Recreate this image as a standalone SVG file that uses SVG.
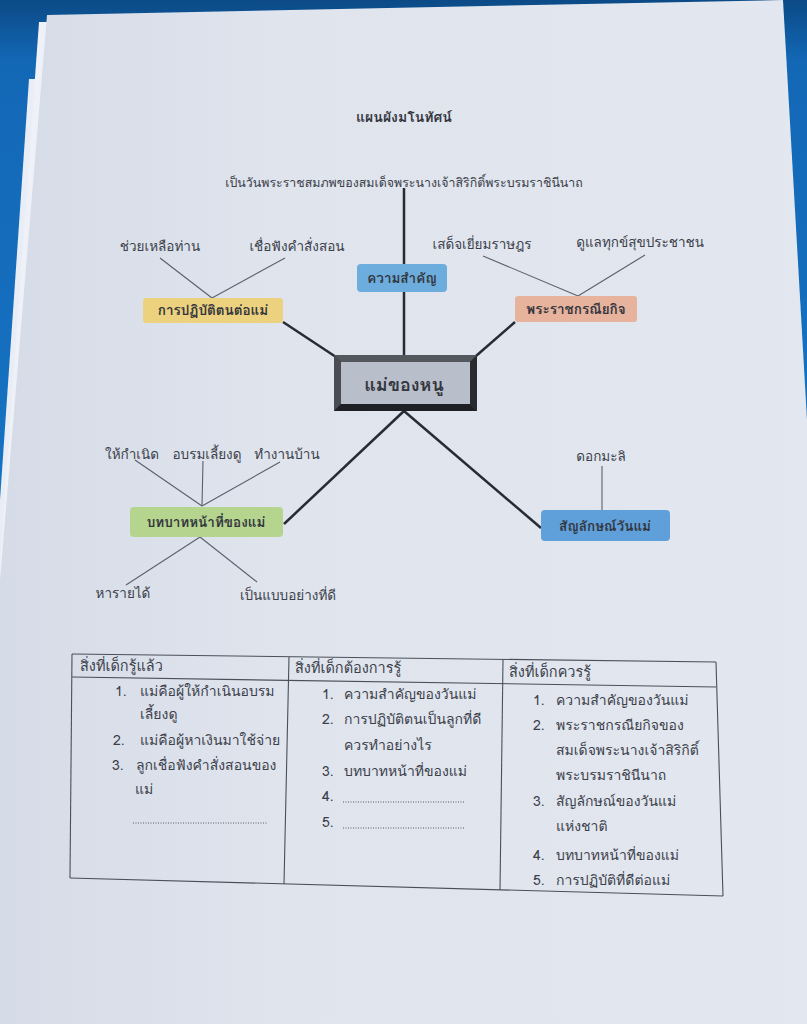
<svg xmlns="http://www.w3.org/2000/svg" width="807" height="1024" viewBox="0 0 807 1024">
<defs>
<linearGradient id="bg" x1="0" y1="0" x2="0" y2="1">
<stop offset="0" stop-color="#0b4a86"/>
<stop offset="0.06" stop-color="#1368b6"/>
<stop offset="1" stop-color="#1a7fd2"/>
</linearGradient>
<linearGradient id="paper" x1="0" y1="0" x2="1" y2="0">
<stop offset="0" stop-color="#d6dce7"/>
<stop offset="0.35" stop-color="#dfe4ed"/>
<stop offset="1" stop-color="#e3e7ef"/>
</linearGradient>
<style>
.t{font-family:"Tahoma","Leelawadee UI","Waree","Loma","Garuda","Noto Sans Thai Looped","Noto Sans Thai","Noto Sans","DejaVu Sans",sans-serif;fill:#3b404a;}
.s{font-size:13.5px;}
.b{font-weight:bold;fill:#33363d;}
.bx{stroke:none;}
.thick{stroke:#262b35;stroke-width:2.5;fill:none;}
.thin{stroke:#5a606c;stroke-width:1.1;fill:none;}
.grid{stroke:#4a4f5a;stroke-width:1.1;fill:none;}
.dots{stroke:#555a66;stroke-width:1;stroke-dasharray:1 1.5;fill:none;}
.c{text-anchor:middle;}
.tb{font-size:14px;}
.hd{font-size:14.5px;}
</style>
</defs>
<rect width="807" height="1024" fill="url(#bg)"/>
<polygon points="29,79 48,79 48,1024 0,1024 0,500" fill="#e9edf5"/>
<polygon points="39,22 52,22 52,1024 0,1024 0,560" fill="#eef1f7"/>
<polygon points="47,15 783,0 807,420 807,1024 0,1024 0,580" fill="url(#paper)"/>

<text class="t b c" x="404" y="122" font-size="14">แผนผังมโนทัศน์</text>

<g id="connectors">
<line class="thick" x1="404" y1="188" x2="404" y2="264"/>
<line class="thick" x1="404" y1="292" x2="404" y2="357"/>
<line class="thick" x1="283" y1="322" x2="336" y2="357"/>
<line class="thick" x1="515" y1="322" x2="476" y2="356"/>
<line class="thick" x1="404" y1="411" x2="284" y2="524"/>
<line class="thick" x1="404" y1="411" x2="541" y2="528"/>
<line class="thin" x1="160" y1="258" x2="212" y2="298"/>
<line class="thin" x1="285" y1="258" x2="212" y2="298"/>
<line class="thin" x1="483" y1="256" x2="578" y2="296"/>
<line class="thin" x1="645" y1="255" x2="578" y2="296"/>
<line class="thin" x1="135" y1="460" x2="202" y2="506"/>
<line class="thin" x1="203" y1="461" x2="202" y2="506"/>
<line class="thin" x1="280" y1="462" x2="202" y2="506"/>
<line class="thin" x1="200" y1="537" x2="126" y2="585"/>
<line class="thin" x1="200" y1="537" x2="257" y2="582"/>
<line class="thin" x1="602" y1="466" x2="602" y2="510"/>
</g>

<g id="n-top"><text class="t c" font-size="12.4" x="404" y="187">เป็นวันพระราชสมภพของสมเด็จพระนางเจ้าสิริกิติ์พระบรมราชินีนาถ</text></g>
<g id="n-help"><text class="t s c" x="160" y="251">ช่วยเหลือท่าน</text></g>
<g id="n-obey"><text class="t s c" x="297" y="251">เชื่อฟังคำสั่งสอน</text></g>
<g id="n-visit"><text class="t s c" x="482" y="249">เสด็จเยี่ยมราษฎร</text></g>
<g id="n-care"><text class="t s c" x="640" y="247">ดูแลทุกข์สุขประชาชน</text></g>

<g id="n-importance">
<rect class="bx" x="357" y="264" width="90" height="28" rx="4" fill="#6cadde"/>
<text class="t s b c" x="402" y="283">ความสำคัญ</text>
</g>
<g id="n-practice">
<rect class="bx" x="143" y="298" width="140" height="25" rx="3" fill="#ecd17e"/>
<text class="t s b c" x="213" y="315">การปฏิบัติตนต่อแม่</text>
</g>
<g id="n-duties">
<rect class="bx" x="515" y="296" width="122" height="26" rx="3" fill="#e8b39d"/>
<text class="t s b c" x="576" y="314">พระราชกรณียกิจ</text>
</g>

<g id="n-center">
<rect x="334" y="355" width="143" height="56" fill="#3a3c42"/>
<polygon points="334,355 477,355 470,362 341,362" fill="#55575e"/>
<polygon points="334,355 341,362 341,404 334,411" fill="#4a4c53"/>
<polygon points="334,411 341,404 470,404 477,411" fill="#1f2025"/>
<polygon points="477,355 477,411 470,404 470,362" fill="#2a2b30"/>
<rect x="341" y="362" width="129" height="42" fill="#b9bfca"/>
<text class="t b c" x="404" y="391" font-size="18">แม่ของหนู</text>
</g>

<g id="n-born"><text class="t s c" x="132" y="459">ให้กำเนิด</text></g>
<g id="n-raise"><text class="t s c" x="207" y="459">อบรมเลี้ยงดู</text></g>
<g id="n-house"><text class="t s c" x="287" y="459">ทำงานบ้าน</text></g>
<g id="n-jasmine"><text class="t s c" x="601" y="461">ดอกมะลิ</text></g>

<g id="n-role">
<rect class="bx" x="130" y="507" width="153" height="30" rx="4" fill="#b5d48e"/>
<text class="t s b c" x="206" y="527">บทบาทหน้าที่ของแม่</text>
</g>
<g id="n-symbol">
<rect class="bx" x="541" y="510" width="129" height="31" rx="4" fill="#5f9fda"/>
<text class="t s b c" x="605" y="531">สัญลักษณ์วันแม่</text>
</g>

<g id="n-income"><text class="t s c" x="123" y="598">หารายได้</text></g>
<g id="n-model"><text class="t s c" x="288" y="600">เป็นแบบอย่างที่ดี</text></g>

<g id="table">
<line class="grid" x1="72" y1="654" x2="716" y2="662"/>
<line class="grid" x1="72" y1="677" x2="716" y2="687"/>
<line class="grid" x1="70" y1="878" x2="723" y2="896"/>
<line class="grid" x1="72" y1="654" x2="70" y2="878"/>
<line class="grid" x1="716" y1="662" x2="723" y2="896"/>
<line class="grid" x1="289" y1="657" x2="284" y2="884"/>
<line class="grid" x1="503" y1="660" x2="500" y2="890"/>

<text class="t hd" x="80" y="671">สิ่งที่เด็กรู้แล้ว</text>
<text class="t hd" x="295" y="673">สิ่งที่เด็กต้องการรู้</text>
<text class="t hd" x="509" y="677">สิ่งที่เด็กควรรู้</text>

<text class="t tb" x="115" y="696">1.</text><text class="t tb" x="140" y="696">แม่คือผู้ให้กำเนินอบรม</text>
<text class="t tb" x="140" y="719">เลี้ยงดู</text>
<text class="t tb" x="113" y="745">2.</text><text class="t tb" x="140" y="745">แม่คือผู้หาเงินมาใช้จ่าย</text>
<text class="t tb" x="112" y="770">3.</text><text class="t tb" x="136" y="770">ลูกเชื่อฟังคำสั่งสอนของ</text>
<text class="t tb" x="135" y="794">แม่</text>
<line class="dots" x1="133" y1="823" x2="268" y2="823"/>

<text class="t tb" x="322" y="699">1.</text><text class="t tb" x="344" y="699">ความสำคัญของวันแม่</text>
<text class="t tb" x="322" y="724">2.</text><text class="t tb" x="344" y="724">การปฏิบัติตนเป็นลูกที่ดี</text>
<text class="t tb" x="344" y="750">ควรทำอย่างไร</text>
<text class="t tb" x="322" y="776">3.</text><text class="t tb" x="344" y="776">บทบาทหน้าที่ของแม่</text>
<text class="t tb" x="322" y="801">4.</text><line class="dots" x1="343" y1="802" x2="465" y2="802"/>
<text class="t tb" x="322" y="827">5.</text><line class="dots" x1="343" y1="828" x2="465" y2="828"/>

<text class="t tb" x="533" y="705">1.</text><text class="t tb" x="556" y="705">ความสำคัญของวันแม่</text>
<text class="t tb" x="533" y="730">2.</text><text class="t tb" x="556" y="730">พระราชกรณียกิจของ</text>
<text class="t tb" x="556" y="755">สมเด็จพระนางเจ้าสิริกิติ์</text>
<text class="t tb" x="556" y="780">พระบรมราชินีนาถ</text>
<text class="t tb" x="533" y="806">3.</text><text class="t tb" x="556" y="806">สัญลักษณ์ของวันแม่</text>
<text class="t tb" x="556" y="831">แห่งชาติ</text>
<text class="t tb" x="533" y="860">4.</text><text class="t tb" x="556" y="860">บทบาทหน้าที่ของแม่</text>
<text class="t tb" x="533" y="885">5.</text><text class="t tb" x="556" y="885">การปฏิบัติที่ดีต่อแม่</text>
</g>
</svg>
